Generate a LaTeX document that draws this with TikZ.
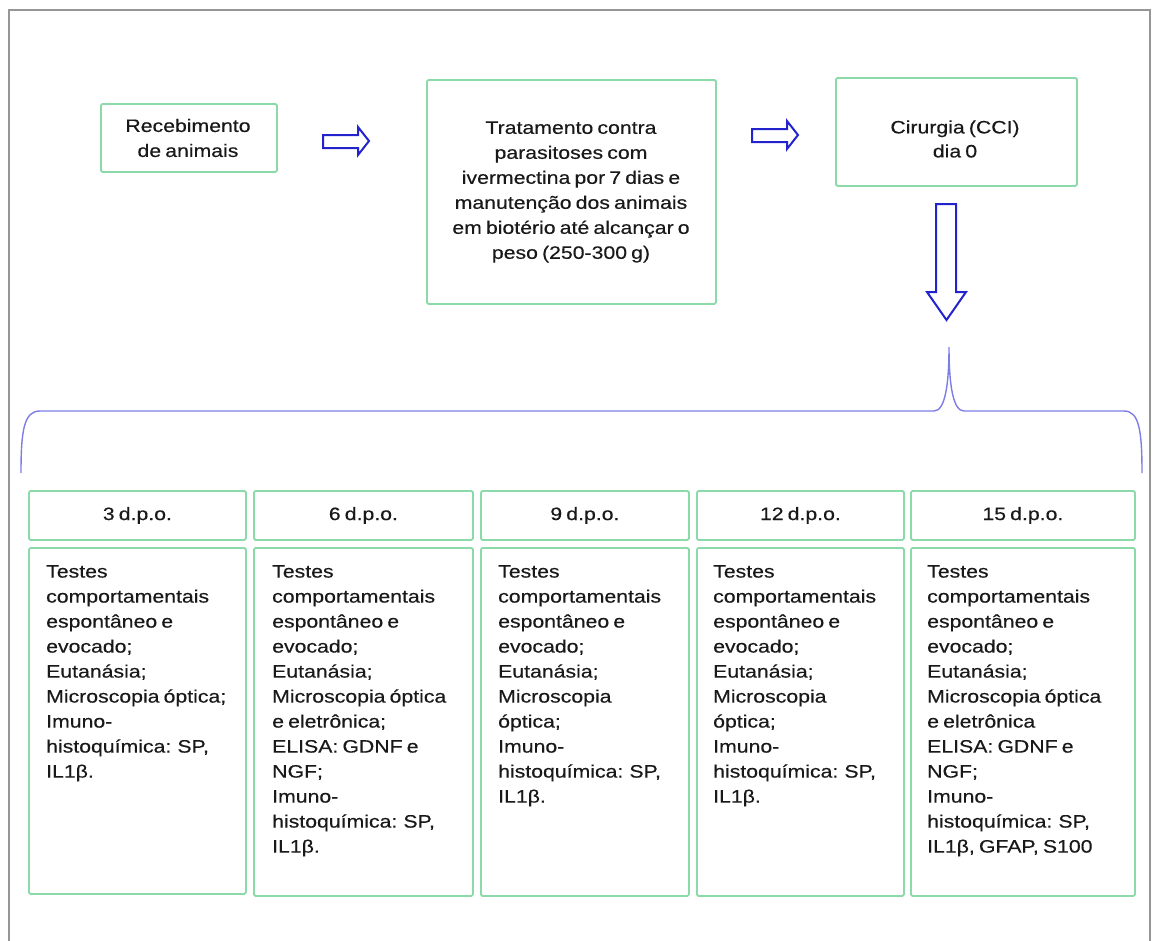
\documentclass[tikz,border=0pt]{standalone}
\usepackage{fontspec}
\setmainfont{Liberation Sans}[FakeStretch=1.18, WordSpace=0.7, FakeBold=0.4]
\definecolor{boxgreen}{RGB}{140,218,170}
\definecolor{arrblue}{RGB}{35,35,205}
\definecolor{bracebl}{RGB}{125,125,230}
\definecolor{framegray}{RGB}{150,150,150}
\begin{document}
\begin{tikzpicture}[x=1pt,y=-1pt,
  gbox/.style={draw=boxgreen, line width=1.8pt, rounded corners=1.5pt, inner sep=0pt, anchor=north west},
  txt/.style={font=\fontsize{18}{25}\selectfont, inner sep=0pt, text=black!90},
  ctxt/.style={txt, align=center},
  ltxt/.style={txt, align=left, anchor=north west},
  blockarrow/.style={draw=arrblue, line width=2pt, line join=miter},
  bracepath/.style={draw=bracebl, line width=1.4pt}]
\useasboundingbox (0,0) rectangle (1154,940);
% outer frame
\draw[framegray, line width=1.5pt] (9,945) -- (9,10) -- (1150,10) -- (1150,945);

% top row boxes
\node[gbox, minimum width=176pt, minimum height=68pt] (b1) at (100,103) {};
\node[ctxt] (t1) at (188,138) {Recebimento\\de animais};
\node[gbox, minimum width=289pt, minimum height=224pt] (b2) at (426,79) {};
\node[ctxt] (t2) at (571,192) {Tratamento contra\\parasitoses com\\ivermectina por 7 dias e\\manutenção dos animais\\em biotério até alcançar o\\peso (250-300 g)};
\node[gbox, minimum width=241pt, minimum height=108pt] (b3) at (835,77) {};
\node[ctxt, font=\fontsize{18}{24}\selectfont] (t3) at (955,139) {Cirurgia (CCI)\\dia 0};

% block arrows
\draw[blockarrow] (323,135) -- (358,135) -- (358,127) -- (369,141) -- (358,155) -- (358,148) -- (323,148) -- cycle;
\draw[blockarrow] (752,129) -- (787,129) -- (787,121) -- (798,135) -- (787,149) -- (787,142) -- (752,142) -- cycle;
\draw[blockarrow] (936,204) -- (956,204) -- (956,292) -- (966,292) -- (946.5,320) -- (927,292) -- (936,292) -- cycle;

% brace
\coordinate (brL) at (21,473);
\coordinate (brT) at (949,347);
\coordinate (brR) at (1142,473);
\draw[bracepath] (brL) .. controls (21,430) and (24,411) .. (40,411) -- (934,411)
  .. controls (945,411) and (949,385) .. (brT)
  .. controls (949,385) and (953,411) .. (964,411) -- (1124,411)
  .. controls (1139,411) and (1142,430) .. (brR);

% header boxes
\node[gbox, minimum width=217pt, minimum height=49pt] (h1) at (28,490) {};
\node[gbox, minimum width=219pt, minimum height=49pt] (h2) at (253,490) {};
\node[gbox, minimum width=208pt, minimum height=49pt] (h3) at (480,490) {};
\node[gbox, minimum width=207pt, minimum height=49pt] (h4) at (696,490) {};
\node[gbox, minimum width=224pt, minimum height=49pt] (h5) at (910,490) {};
\node[ctxt] (ht1) at (h1.center) {3 d.p.o.};
\node[ctxt] (ht2) at (h2.center) {6 d.p.o.};
\node[ctxt] (ht3) at (h3.center) {9 d.p.o.};
\node[ctxt] (ht4) at (h4.center) {12 d.p.o.};
\node[ctxt] (ht5) at (h5.center) {15 d.p.o.};

% content boxes
\node[gbox, minimum width=217pt, minimum height=346pt] (c1) at (28,547) {};
\node[gbox, minimum width=219pt, minimum height=348pt] (c2) at (253,547) {};
\node[gbox, minimum width=208pt, minimum height=348pt] (c3) at (480,547) {};
\node[gbox, minimum width=207pt, minimum height=348pt] (c4) at (696,547) {};
\node[gbox, minimum width=224pt, minimum height=348pt] (c5) at (910,547) {};

\node[ltxt] (ct1) at (46,565) {Testes\\comportamentais\\espontâneo e\\evocado;\\Eutanásia;\\Microscopia óptica;\\Imuno-\\histoquímica: SP,\\IL1β.};
\node[ltxt] (ct2) at (272,565) {Testes\\comportamentais\\espontâneo e\\evocado;\\Eutanásia;\\Microscopia óptica\\e eletrônica;\\ELISA: GDNF e\\NGF;\\Imuno-\\histoquímica: SP,\\IL1β.};
\node[ltxt] (ct3) at (498,565) {Testes\\comportamentais\\espontâneo e\\evocado;\\Eutanásia;\\Microscopia\\óptica;\\Imuno-\\histoquímica: SP,\\IL1β.};
\node[ltxt] (ct4) at (713,565) {Testes\\comportamentais\\espontâneo e\\evocado;\\Eutanásia;\\Microscopia\\óptica;\\Imuno-\\histoquímica: SP,\\IL1β.};
\node[ltxt] (ct5) at (927,565) {Testes\\comportamentais\\espontâneo e\\evocado;\\Eutanásia;\\Microscopia óptica\\e eletrônica\\ELISA: GDNF e\\NGF;\\Imuno-\\histoquímica: SP,\\IL1β, GFAP, S100};
\end{tikzpicture}
\end{document}
